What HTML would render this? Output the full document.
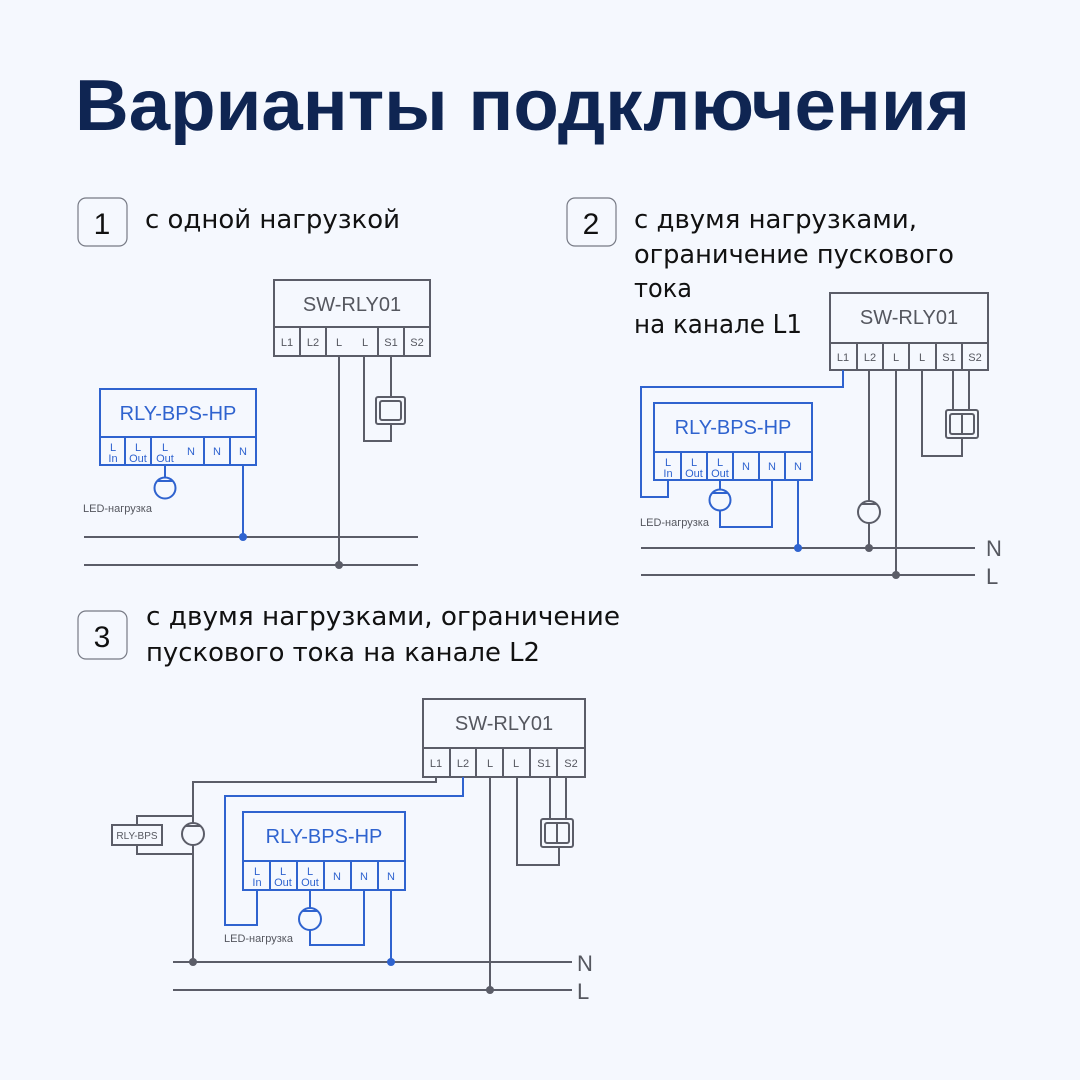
<!DOCTYPE html>
<html><head><meta charset="utf-8"><style>
html,body{margin:0;padding:0;background:#f5f8fe}
svg{display:block}
text{font-family:"Liberation Sans","DejaVu Sans",sans-serif}
.g{stroke:#5b5d68;stroke-width:2;fill:none}
.b{stroke:#2f63cf;stroke-width:2;fill:none}
.gt{fill:#55575f}
.bt{fill:#2f63cf}
.h{fill:#111;font-size:26px;font-family:"DejaVu Sans","Liberation Sans",sans-serif}
</style></head><body>
<svg width="1080" height="1080" viewBox="0 0 1080 1080" xmlns="http://www.w3.org/2000/svg">
<rect width="1080" height="1080" fill="#f5f8fe"/>
<text x="75" y="130" font-size="72" font-weight="bold" fill="#0f2552" textLength="895" lengthAdjust="spacingAndGlyphs">Варианты подключения</text>

<rect x="78" y="198" width="49" height="48" rx="8" fill="none" stroke="#777a85" stroke-width="1.2"/>
<text x="102" y="234" font-size="30" text-anchor="middle" fill="#111">1</text>
<text x="145" y="228" class="h" textLength="255" lengthAdjust="spacingAndGlyphs">с одной нагрузкой</text>

<rect x="567" y="198" width="49" height="48" rx="8" fill="none" stroke="#777a85" stroke-width="1.2"/>
<text x="591" y="234" font-size="30" text-anchor="middle" fill="#111">2</text>
<text x="634" y="228" class="h" textLength="283" lengthAdjust="spacingAndGlyphs">с двумя нагрузками,</text>
<text x="634" y="263" class="h" textLength="320" lengthAdjust="spacingAndGlyphs">ограничение пускового</text>
<text x="634" y="297" class="h" textLength="58" lengthAdjust="spacingAndGlyphs">тока</text>
<text x="634" y="333" class="h" textLength="168" lengthAdjust="spacingAndGlyphs">на канале L1</text>

<rect x="78" y="611" width="49" height="48" rx="8" fill="none" stroke="#777a85" stroke-width="1.2"/>
<text x="102" y="647" font-size="30" text-anchor="middle" fill="#111">3</text>
<text x="146" y="625" class="h" textLength="474" lengthAdjust="spacingAndGlyphs">с двумя нагрузками, ограничение</text>
<text x="146" y="661" class="h" textLength="394" lengthAdjust="spacingAndGlyphs">пускового тока на канале L2</text>

<!-- ============ DIAGRAM 1 ============ -->
<g class="g">
<rect x="274" y="280" width="156" height="76"/>
<line x1="274" y1="327" x2="430" y2="327"/>
<line x1="300" y1="327" x2="300" y2="356"/><line x1="326" y1="327" x2="326" y2="356"/>
<line x1="378" y1="327" x2="378" y2="356"/><line x1="404" y1="327" x2="404" y2="356"/>
<line x1="84" y1="537" x2="418" y2="537"/><line x1="84" y1="565" x2="418" y2="565"/>
<line x1="339" y1="356" x2="339" y2="565"/>
<polyline points="364,356 364,441 391,441 391,424"/>
<line x1="391" y1="356" x2="391" y2="397"/>
<rect x="376" y="397" width="29" height="27" rx="2"/>
<rect x="380" y="401" width="21" height="19" rx="2"/>
</g>
<circle cx="339" cy="565" r="4" fill="#5b5d68"/>
<g class="gt" font-size="20" text-anchor="middle"><text x="352" y="311">SW-RLY01</text></g>
<g class="gt" font-size="11" text-anchor="middle">
<text x="287" y="346">L1</text><text x="313" y="346">L2</text><text x="339" y="346">L</text><text x="365" y="346">L</text><text x="391" y="346">S1</text><text x="417" y="346">S2</text>
</g>
<g class="b">
<rect x="100" y="389" width="156" height="76"/>
<line x1="100" y1="437" x2="256" y2="437"/>
<line x1="125" y1="437" x2="125" y2="465"/><line x1="151" y1="437" x2="151" y2="465"/>
<line x1="204" y1="437" x2="204" y2="465"/><line x1="230" y1="437" x2="230" y2="465"/>
<line x1="165" y1="465" x2="165" y2="478"/>
<circle cx="165" cy="488" r="10.5"/><line x1="157" y1="481" x2="173" y2="481"/>
<line x1="243" y1="465" x2="243" y2="537"/>
</g>
<circle cx="243" cy="537" r="4" fill="#2f63cf"/>
<g class="bt" text-anchor="middle"><text x="178" y="420" font-size="20">RLY-BPS-HP</text>
<g font-size="11"><text x="113" y="451">L</text><text x="113" y="462">In</text><text x="138" y="451">L</text><text x="138" y="462">Out</text><text x="165" y="451">L</text><text x="165" y="462">Out</text><text x="191" y="455">N</text><text x="217" y="455">N</text><text x="243" y="455">N</text></g></g>
<text x="83" y="512" font-size="11" class="gt">LED-нагрузка</text>

<!-- ============ DIAGRAM 2 ============ -->
<g class="g">
<rect x="830" y="293" width="158" height="77"/>
<line x1="830" y1="343" x2="988" y2="343"/>
<line x1="857" y1="343" x2="857" y2="370"/><line x1="883" y1="343" x2="883" y2="370"/><line x1="909" y1="343" x2="909" y2="370"/><line x1="936" y1="343" x2="936" y2="370"/><line x1="962" y1="343" x2="962" y2="370"/>
<line x1="641" y1="548" x2="975" y2="548"/><line x1="641" y1="575" x2="975" y2="575"/>
<line x1="869" y1="370" x2="869" y2="501"/><circle cx="869" cy="512" r="11"/><line x1="861" y1="504" x2="877" y2="504"/><line x1="869" y1="523" x2="869" y2="548"/>
<line x1="896" y1="370" x2="896" y2="575"/>
<polyline points="922,370 922,456 962,456 962,438"/>
<line x1="953" y1="370" x2="953" y2="410"/><line x1="969" y1="370" x2="969" y2="410"/>
<rect x="946" y="410" width="32" height="28" rx="2"/><rect x="950" y="414" width="24" height="20" rx="2"/><line x1="962" y1="414" x2="962" y2="434"/>
</g>
<circle cx="869" cy="548" r="4" fill="#5b5d68"/><circle cx="896" cy="575" r="4" fill="#5b5d68"/>
<g class="gt" font-size="20" text-anchor="middle"><text x="909" y="324">SW-RLY01</text></g>
<g class="gt" font-size="11" text-anchor="middle">
<text x="843" y="361">L1</text><text x="870" y="361">L2</text><text x="896" y="361">L</text><text x="922" y="361">L</text><text x="949" y="361">S1</text><text x="975" y="361">S2</text>
</g>
<g class="b">
<rect x="654" y="403" width="158" height="77"/>
<line x1="654" y1="452" x2="812" y2="452"/>
<line x1="681" y1="452" x2="681" y2="480"/><line x1="707" y1="452" x2="707" y2="480"/><line x1="733" y1="452" x2="733" y2="480"/><line x1="759" y1="452" x2="759" y2="480"/><line x1="785" y1="452" x2="785" y2="480"/>
<polyline points="843,370 843,387 641,387 641,497 668,497 668,480"/>
<line x1="720" y1="480" x2="720" y2="489"/><circle cx="720" cy="500" r="10.5"/><line x1="712" y1="493" x2="728" y2="493"/>
<polyline points="720,511 720,527 772,527 772,480"/>
<line x1="798" y1="480" x2="798" y2="548"/>
</g>
<circle cx="798" cy="548" r="4" fill="#2f63cf"/>
<g class="bt" text-anchor="middle"><text x="733" y="434" font-size="20">RLY-BPS-HP</text>
<g font-size="11"><text x="668" y="466">L</text><text x="668" y="477">In</text><text x="694" y="466">L</text><text x="694" y="477">Out</text><text x="720" y="466">L</text><text x="720" y="477">Out</text><text x="746" y="470">N</text><text x="772" y="470">N</text><text x="798" y="470">N</text></g></g>
<text x="640" y="526" font-size="11" class="gt">LED-нагрузка</text>
<text x="986" y="556" font-size="22" class="gt">N</text><text x="986" y="584" font-size="22" class="gt">L</text>

<!-- ============ DIAGRAM 3 ============ -->
<g class="g">
<rect x="423" y="699" width="162" height="78"/>
<line x1="423" y1="748" x2="585" y2="748"/>
<line x1="450" y1="748" x2="450" y2="777"/><line x1="476" y1="748" x2="476" y2="777"/><line x1="503" y1="748" x2="503" y2="777"/><line x1="530" y1="748" x2="530" y2="777"/><line x1="557" y1="748" x2="557" y2="777"/>
<line x1="173" y1="962" x2="572" y2="962"/><line x1="173" y1="990" x2="572" y2="990"/>
<polyline points="436,777 436,782 193,782 193,823"/>
<circle cx="193" cy="834" r="11"/><line x1="185" y1="826" x2="201" y2="826"/>
<line x1="193" y1="845" x2="193" y2="962"/>
<polyline points="137,825 137,816 193,816"/>
<polyline points="137,845 137,854 193,854"/>
<rect x="112" y="825" width="50" height="20"/>
<line x1="490" y1="777" x2="490" y2="990"/>
<polyline points="517,777 517,865 559,865 559,847"/>
<line x1="550" y1="777" x2="550" y2="819"/><line x1="566" y1="777" x2="566" y2="819"/>
<rect x="541" y="819" width="32" height="28" rx="2"/><rect x="545" y="823" width="24" height="20" rx="2"/><line x1="557" y1="823" x2="557" y2="843"/>
</g>
<circle cx="193" cy="962" r="4" fill="#5b5d68"/><circle cx="490" cy="990" r="4" fill="#5b5d68"/>
<text x="137" y="839" font-size="10" class="gt" text-anchor="middle">RLY-BPS</text>
<g class="gt" font-size="20" text-anchor="middle"><text x="504" y="730">SW-RLY01</text></g>
<g class="gt" font-size="11" text-anchor="middle">
<text x="436" y="767">L1</text><text x="463" y="767">L2</text><text x="490" y="767">L</text><text x="516" y="767">L</text><text x="544" y="767">S1</text><text x="571" y="767">S2</text>
</g>
<g class="b">
<rect x="243" y="812" width="162" height="78"/>
<line x1="243" y1="861" x2="405" y2="861"/>
<line x1="270" y1="861" x2="270" y2="890"/><line x1="297" y1="861" x2="297" y2="890"/><line x1="324" y1="861" x2="324" y2="890"/><line x1="351" y1="861" x2="351" y2="890"/><line x1="378" y1="861" x2="378" y2="890"/>
<polyline points="463,777 463,796 225,796 225,925 257,925 257,890"/>
<line x1="310" y1="890" x2="310" y2="908"/><circle cx="310" cy="919" r="11"/><line x1="302" y1="911" x2="318" y2="911"/>
<polyline points="310,930 310,945 364,945 364,890"/>
<line x1="391" y1="890" x2="391" y2="962"/>
</g>
<circle cx="391" cy="962" r="4" fill="#2f63cf"/>
<g class="bt" text-anchor="middle"><text x="324" y="843" font-size="20">RLY-BPS-HP</text>
<g font-size="11"><text x="257" y="875">L</text><text x="257" y="886">In</text><text x="283" y="875">L</text><text x="283" y="886">Out</text><text x="310" y="875">L</text><text x="310" y="886">Out</text><text x="337" y="880">N</text><text x="364" y="880">N</text><text x="391" y="880">N</text></g></g>
<text x="224" y="942" font-size="11" class="gt">LED-нагрузка</text>
<text x="577" y="971" font-size="22" class="gt">N</text><text x="577" y="999" font-size="22" class="gt">L</text>
</svg>
</body></html>
